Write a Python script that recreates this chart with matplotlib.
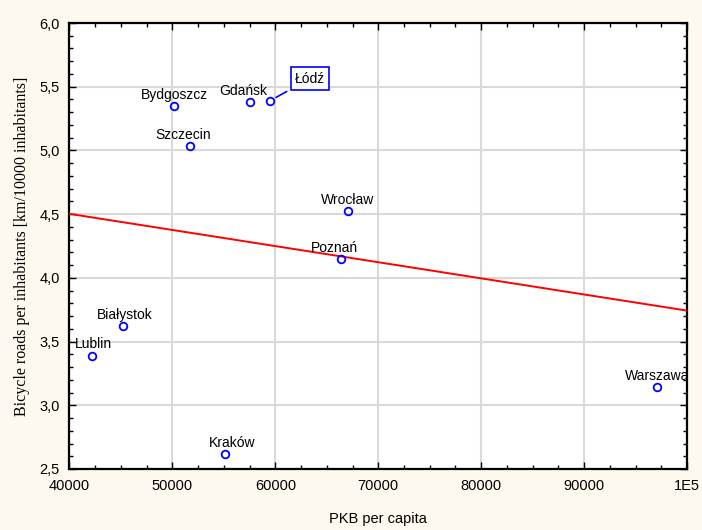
import numpy as np
import matplotlib.pyplot as plt
from matplotlib.ticker import FixedLocator, MultipleLocator, FuncFormatter

# city data
cities = ["Bydgoszcz", "Gdańsk", "Łódź", "Szczecin", "Wrocław",
          "Poznań", "Białystok", "Lublin", "Kraków", "Warszawa"]
pkb = [50160, 57540, 59480, 51710, 67060, 66380, 45200, 42190, 55110, 97090]
roads = [5.35, 5.38, 5.39, 5.035, 4.524, 4.148, 3.622, 3.386, 2.617, 3.143]

x_ticks = [40000, 50000, 60000, 70000, 80000, 90000, 100000]
x_tick_labels = ["40000", "50000", "60000", "70000", "80000", "90000", "1E5"]
y_ticks = [2.5, 3.0, 3.5, 4.0, 4.5, 5.0, 5.5, 6.0]

# label offsets in points (dx, dy) from each point
label_offsets = {
    "Bydgoszcz": (0, 3), "Gdańsk": (-5, 3), "Szczecin": (-5, 3),
    "Wrocław": (0, 3), "Poznań": (-5, 3), "Białystok": (1, 3),
    "Lublin": (1, 4), "Kraków": (5, 3), "Warszawa": (0, 3),
}

bg = "#fdf9ee"
fig = plt.figure(figsize=(7.02, 5.30), dpi=100, facecolor=bg)
ax = fig.add_axes([0.099, 0.1151, 0.8796, 0.8415])
ax.set_facecolor("white")

x = np.array(pkb, dtype=float)
y = np.array(roads)

# linear fit
slope, intercept = np.polyfit(x, y, 1)
xl = np.array([x_ticks[0], x_ticks[-1]], dtype=float)
ax.plot(xl, slope * xl + intercept, color="#ff0000", lw=1.4, zorder=3)

ax.plot(x, y, "o", ms=5.5, mfc="none", mec="#0000ff", mew=1.3, zorder=4)

for name, xi, yi in zip(cities, x, y):
    if name == "Łódź":
        ax.annotate(name, (xi, yi), xytext=(29, 16), textcoords="offset points",
                    ha="center", va="center", fontsize=10,
                    family="Liberation Sans",
                    bbox=dict(boxstyle="square,pad=0.3", fc="white",
                              ec="#0000ff", lw=1.2),
                    arrowprops=dict(arrowstyle="-", color="#0000ff", lw=1.2,
                                    shrinkA=3, shrinkB=5),
                    zorder=5)
        continue
    dx, dy = label_offsets[name]
    ax.annotate(name, (xi, yi), xytext=(dx, dy), textcoords="offset points",
                ha="center", va="bottom", fontsize=10,
                family="Liberation Sans", zorder=5, annotation_clip=False,
                clip_on=True)

ax.set_xlim(x_ticks[0], x_ticks[-1])
ax.set_ylim(y_ticks[0], y_ticks[-1])
ax.xaxis.set_major_locator(FixedLocator(x_ticks))
ax.set_xticklabels(x_tick_labels)
ax.yaxis.set_major_locator(FixedLocator(y_ticks))
ax.yaxis.set_major_formatter(FuncFormatter(lambda v, p: f"{v:.1f}".replace(".", ",")))
ax.xaxis.set_minor_locator(MultipleLocator(2500))
ax.yaxis.set_minor_locator(MultipleLocator(0.1))

ax.tick_params(which="both", direction="in", top=True, right=True,
               color="black", width=1)
ax.tick_params(which="major", length=5, labelsize=10.5, pad=7)
ax.tick_params(which="minor", length=3)
for lab in ax.get_xticklabels() + ax.get_yticklabels():
    lab.set_family("Liberation Sans")

ax.grid(True, which="major", color="#d9d9d9", lw=1.5, zorder=0)
ax.set_axisbelow(True)
for s in ax.spines.values():
    s.set_linewidth(1.6)

ax.set_xlabel("PKB per capita", fontsize=10.5, family="Liberation Sans",
              labelpad=14)
ax.set_ylabel("Bicycle roads per inhabitants [km/10000 inhabitants]",
              fontsize=11.5, family="Liberation Serif", labelpad=7)

fig.savefig("out.png", dpi=100, facecolor=bg)
